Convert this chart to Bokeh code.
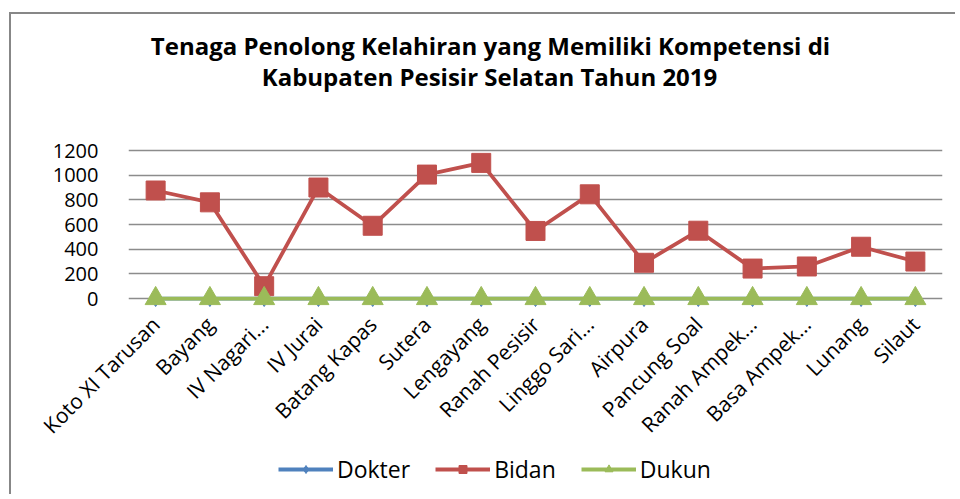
from bokeh.plotting import figure
from bokeh.layouts import column
from bokeh.models import (FactorRange, Range1d, FixedTicker, Label, Legend, LegendItem)
from bokeh.embed import file_html
from bokeh.resources import INLINE
from math import pi

title_lines = ["Tenaga Penolong Kelahiran yang Memiliki Kompetensi di",
               "Kabupaten Pesisir Selatan Tahun 2019"]
kecamatan = ["Koto XI Tarusan", "Bayang", "IV Nagari...", "IV Jurai", "Batang Kapas",
             "Sutera", "Lengayang", "Ranah Pesisir", "Linggo Sari...", "Airpura",
             "Pancung Soal", "Ranah Ampek...", "Basa Ampek...", "Lunang", "Silaut"]
dokter = [0, 0, 0, 0, 0, 0, 0, 0, 0, 0, 0, 0, 0, 0, None]
bidan = [876, 780, 100, 900, 590, 1005, 1100, 548, 845, 290, 550, 243, 260, 420, 300]
dukun = [0, 0, 0, 0, 0, 0, 0, 0, 0, 0, 0, 0, 0, 0, None]
y_ticks = [0, 200, 400, 600, 800, 1000, 1200]
series_names = ["Dokter", "Bidan", "Dukun"]

FONT = "Open Sans"
blue, red, green = "#4F81BD", "#C0504D", "#9BBB59"
styles = [(blue, "diamond", 16), (red, "square", 19), (green, "triangle", 21)]

# frame reaches up into the title area (only 0..1200 carries ticks and grid)
p = figure(width=944, height=440, output_backend="svg", toolbar_location=None,
           x_range=FactorRange(*kecamatan, range_padding=0),
           y_range=Range1d(-97, 2222),
           min_border_left=117, min_border_right=13, min_border_top=10,
           min_border_bottom=144)
p.outline_line_color = None
p.background_fill_color = "white"
p.border_fill_color = "white"

p.yaxis.ticker = FixedTicker(ticks=y_ticks)
p.yaxis.axis_line_color = None
p.yaxis.major_tick_line_color = None
p.yaxis.minor_tick_line_color = None
p.yaxis.major_label_text_font = FONT
p.yaxis.major_label_text_font_size = "20px"
p.yaxis.major_label_text_color = "black"
p.yaxis.major_label_standoff = 24

p.xaxis.axis_line_color = None
p.xaxis.major_tick_line_color = None
p.xaxis.major_label_orientation = pi / 4
p.xaxis.major_label_text_font = FONT
p.xaxis.major_label_text_font_size = "21px"
p.xaxis.major_label_text_color = "black"
p.xaxis.major_label_standoff = 4

p.xgrid.grid_line_color = None
p.ygrid.ticker = FixedTicker(ticks=y_ticks)
p.ygrid.grid_line_color = "#8c8c8c"
p.ygrid.grid_line_width = 1.5

for vals, (col, mk, sz) in zip([dokter, bidan, dukun], styles):
    p.line(kecamatan, vals, line_color=col, line_width=3.8)
    p.scatter(kecamatan, vals, marker=mk, size=sz, fill_color=col, line_color=col)

for txt, xx, yy in zip(title_lines, [362, 361], [265, 234]):
    p.add_layout(Label(x=xx, y=yy, x_units="screen", y_units="screen", text=txt,
                       text_align="center", text_baseline="middle",
                       text_font=FONT, text_font_style="bold", text_font_size="24px",
                       text_color="black"))

# legend strip below the chart
pl = figure(width=944, height=40, output_backend="svg", toolbar_location=None,
            x_range=p.x_range, y_range=Range1d(5000, 6000), min_border=0)
pl.axis.visible = False
pl.grid.visible = False
pl.outline_line_color = None
pl.border_fill_color = "white"
pl.background_fill_color = "white"
items = []
for name, vals, (col, mk, sz) in zip(series_names, [dokter, bidan, dukun], styles):
    lr = pl.line(kecamatan, vals, line_color=col, line_width=4)
    sr = pl.scatter(kecamatan, vals, marker=mk, size=sz * 0.88, fill_color=col, line_color=col)
    items.append(LegendItem(label=name, renderers=[lr, sr]))
legend = Legend(items=items, orientation="horizontal", location=(150, 9),
                label_text_font=FONT, label_text_font_size="23px", label_text_color="black",
                glyph_width=55, glyph_height=20, label_standoff=4, spacing=25,
                padding=0, margin=0, border_line_color=None, background_fill_alpha=0)
pl.add_layout(legend, "center")

layout = column(p, pl, spacing=0,
                styles={"margin-left": "9px", "margin-top": "12px",
                        "border-left": "2px solid #878787", "border-top": "2px solid #878787",
                        "background-color": "white"})

open("out.html", "w").write(file_html(layout, INLINE))
